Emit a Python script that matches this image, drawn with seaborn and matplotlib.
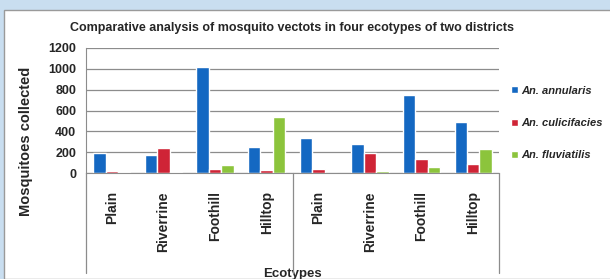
import pandas as pd
import matplotlib
matplotlib.use("Agg")
import matplotlib.pyplot as plt
import matplotlib.patches as mpatches
import seaborn as sns

sns.set_style("white")
plt.rcParams["font.family"] = ["Liberation Sans", "DejaVu Sans"]

# Data
ecotypes = ["Plain", "Riverrine", "Foothill", "Hilltop",
            "Plain", "Riverrine", "Foothill", "Hilltop"]
species = ["An. annularis", "An. culicifacies", "An. fluviatilis"]
annularis = [190, 175, 1020, 250, 335, 280, 750, 490]
culicifacies = [20, 240, 35, 30, 40, 190, 135, 90]
fluviatilis = [5, 5, 75, 540, 0, 15, 60, 235]
colors = ["#1468c2", "#cf2436", "#8cc43c"]

keys = [f"{i}_{e}" for i, e in enumerate(ecotypes)]
df = pd.DataFrame({
    "slot": keys * 3,
    "species": [s for s in species for _ in keys],
    "count": annularis + culicifacies + fluviatilis,
})

fig = plt.figure(figsize=(6.1, 2.79), dpi=100)
fig.patch.set_facecolor("#c9def0")
# white chart panel with thin grey border
fig.add_artist(mpatches.Rectangle((4 / 610, 0), 1, 1 - 10 / 279,
                                  transform=fig.transFigure,
                                  facecolor="white", edgecolor="#9a9a9a",
                                  linewidth=1.0, zorder=0))

ax = fig.add_axes([86 / 610, 1 - 173 / 279, (499 - 86) / 610, (173 - 48) / 279])
ax.set_facecolor("none")

sns.barplot(data=df, x="slot", y="count", hue="species", palette=colors,
            width=0.72, ax=ax, saturation=1, legend=True)

ax.set_ylim(0, 1200)
ax.set_yticks(range(0, 1201, 200))
ax.set_yticklabels([str(v) for v in range(0, 1201, 200)], fontsize=9, fontweight="bold")
ax.set_xticks(range(len(keys)))
ax.set_xticklabels(ecotypes, rotation=90, fontsize=10, fontweight="bold")
ax.tick_params(axis="x", length=0, pad=13)
ax.tick_params(axis="y", length=4, width=0.8, color="#8c8c8c", pad=3, direction="out")
ax.set_xlim(-0.5, 7.5)
ax.yaxis.grid(True, color="#8c8c8c", linewidth=0.9)
ax.set_axisbelow(True)
for side in ["top", "right"]:
    ax.spines[side].set_visible(False)
ax.spines["left"].set_color("#8c8c8c")
ax.spines["bottom"].set_color("#8c8c8c")

# district separators below the axis
trans = matplotlib.transforms.blended_transform_factory(ax.transData, ax.transAxes)
for xs in [-0.5, 3.5, 7.5]:
    ax.plot([xs, xs], [0, -0.8], transform=trans, color="#8c8c8c",
            linewidth=0.9, clip_on=False)

ax.set_title("Comparative analysis of mosquito vectots in four ecotypes of two districts",
             fontsize=9, fontweight="bold", pad=12)
ax.set_xlabel("Ecotypes", fontsize=9.5, fontweight="bold")
ax.xaxis.set_label_coords(0.5, -0.76)
ax.set_ylabel("Mosquitoes collected", fontsize=10.5, fontweight="bold")
ax.yaxis.set_label_coords(-0.128, 0.25)

ax.legend(title=None, frameon=False, loc="center left", bbox_to_anchor=(1.03, 0.4),
          borderaxespad=0, borderpad=0,
          prop={"weight": "bold", "style": "italic", "size": 8},
          handlelength=0.6, handleheight=0.6, handletextpad=0.3, labelspacing=2.0)

fig.savefig("out.png", dpi=100, facecolor=fig.get_facecolor())
